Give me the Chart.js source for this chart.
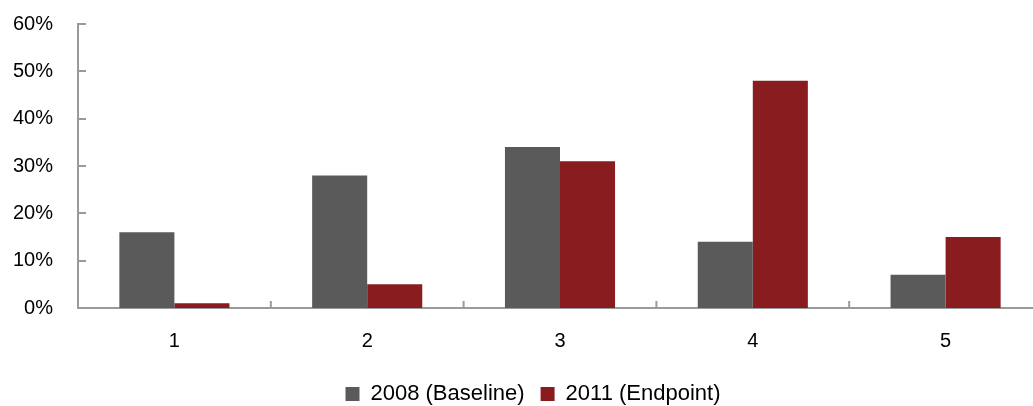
<!DOCTYPE html>
<html><head><meta charset="utf-8">
<script src="https://cdn.jsdelivr.net/npm/chart.js@4"></script>
<style>
html,body{margin:0;padding:0;background:#fff;overflow:hidden;}
#wrap{width:1045px;height:406px;position:relative;}
</style></head>
<body><div id="wrap"><canvas id="c"></canvas></div>
<script>
const categories = ['1','2','3','4','5'];
const baseline2008 = [16, 28, 34, 14, 7];
const endpoint2011 = [1, 5, 31, 48, 15];
const seriesNames = ['2008 (Baseline)', '2011 (Endpoint)'];
const yTicks = [0, 10, 20, 30, 40, 50, 60];

const AXIS = '#9a9a9a';
const tickPlugin = {
  id: 'innerTicks',
  afterLayout(chart) {
    const lg = chart.legend;
    if (lg) { lg.left += 12; lg.right += 12; lg.top += 9; lg.bottom += 9; }
  },
  afterDraw(chart) {
    const ctx = chart.ctx, x = chart.scales.x, y = chart.scales.y;
    ctx.save();
    ctx.strokeStyle = AXIS; ctx.lineWidth = 2;
    const ax = chart.chartArea.left;
    yTicks.forEach(v => {
      const py = Math.round(y.getPixelForValue(v));
      ctx.beginPath(); ctx.moveTo(ax, py); ctx.lineTo(ax + 8, py); ctx.stroke();
    });
    const bottom = chart.chartArea.bottom;
    for (let i = 0; i < categories.length - 1; i++) {
      const px = (x.getPixelForValue(i) + x.getPixelForValue(i + 1)) / 2;
      ctx.beginPath(); ctx.moveTo(px, bottom); ctx.lineTo(px, bottom - 7); ctx.stroke();
    }
    ctx.restore();
  }
};

new Chart(document.getElementById('c'), {
  type: 'bar',
  data: {
    labels: categories,
    datasets: [
      { label: seriesNames[0], data: baseline2008, backgroundColor: '#5a5a5a' },
      { label: seriesNames[1], data: endpoint2011, backgroundColor: '#881c1e' }
    ]
  },
  options: {
    responsive: true, maintainAspectRatio: false, animation: false,
    devicePixelRatio: 1,
    layout: { padding: { left: 0, right: 3, top: 24, bottom: 0 } },
    datasets: { bar: { categoryPercentage: 0.571, barPercentage: 1.0 } },
    plugins: {
      tooltip: { enabled: false },
      legend: {
        position: 'bottom', maxHeight: 55,
        labels: { font: { family: 'Liberation Sans', size: 22 }, color: '#000', boxWidth: 14, boxHeight: 14, padding: 16 }
      }
    },
    scales: {
      x: {
        afterFit(s) { s.height = 50; },
        grid: { display: false, drawTicks: true, tickLength: 0 },
        border: { display: true, color: AXIS, width: 2 },
        ticks: { font: { family: 'Liberation Sans', size: 20, lineHeight: 1.0 }, color: '#000', padding: 23 }
      },
      y: {
        min: 0, max: 60,
        afterFit(s) { s.width = 78; },
        grid: { display: false, drawTicks: true, tickLength: 25 },
        border: { display: true, color: AXIS, width: 2 },
        ticks: { stepSize: 10, font: { family: 'Liberation Sans', size: 20 }, color: '#000', padding: 0,
          callback: v => v + '%' }
      }
    }
  },
  plugins: [tickPlugin]
});
</script></body></html>
